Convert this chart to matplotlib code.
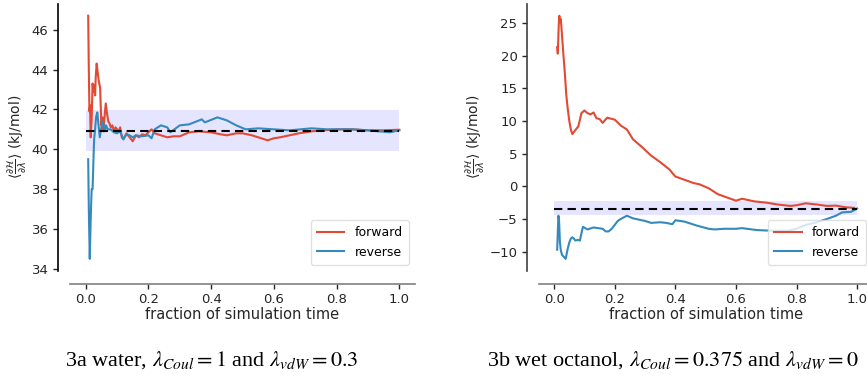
import numpy as np
import matplotlib
matplotlib.use("Agg")
import matplotlib.pyplot as plt

# 3a water: fraction of simulation time vs <dH/dlambda>
wat_fwd_t = [0.008, 0.010, 0.012, 0.014, 0.016, 0.019, 0.022, 0.025, 0.027, 0.030, 0.032, 0.035,
             0.038, 0.042, 0.046, 0.050, 0.053, 0.056, 0.060, 0.064, 0.068, 0.072, 0.076, 0.080,
             0.085, 0.090, 0.095, 0.100, 0.105, 0.110, 0.115, 0.120, 0.130, 0.140, 0.150, 0.160,
             0.170, 0.180, 0.190, 0.200, 0.210, 0.220, 0.240, 0.260, 0.280, 0.300, 0.330, 0.360,
             0.400, 0.430, 0.450, 0.480, 0.500, 0.530, 0.550, 0.580, 0.600, 0.620, 0.650, 0.680,
             0.720, 0.760, 0.800, 0.850, 0.900, 0.950, 1.000]
wat_fwd = [46.7, 44.0, 41.9, 42.2, 40.6, 41.5, 43.3, 42.9, 43.2, 42.7, 43.6, 44.3,
           43.9, 43.4, 43.1, 41.2, 41.6, 40.9, 41.6, 42.3, 41.8, 41.4, 41.3, 41.1,
           41.2, 40.9, 41.1, 41.0, 40.9, 41.1, 40.6, 40.5, 40.8, 40.6, 40.4, 40.7,
           40.6, 40.75, 40.7, 40.85, 41.0, 40.8, 40.7, 40.6, 40.65, 40.65, 40.85, 40.9,
           40.85, 40.75, 40.7, 40.8, 40.8, 40.7, 40.6, 40.45, 40.55, 40.6, 40.7, 40.8,
           40.9, 40.95, 41.0, 41.0, 40.95, 40.95, 40.98]

wat_rev_t = [0.008, 0.010, 0.013, 0.016, 0.019, 0.022, 0.025, 0.027, 0.030, 0.033, 0.037, 0.041,
             0.045, 0.050, 0.055, 0.060, 0.065, 0.070, 0.080, 0.090, 0.100, 0.110, 0.120, 0.130,
             0.140, 0.150, 0.160, 0.180, 0.200, 0.210, 0.220, 0.240, 0.260, 0.270, 0.300, 0.330,
             0.370, 0.380, 0.420, 0.450, 0.480, 0.510, 0.550, 0.600, 0.650, 0.720, 0.770, 0.850,
             0.900, 0.970, 1.000]
wat_rev = [39.5, 37.0, 34.5, 36.5, 38.0, 38.0, 39.6, 40.5, 41.0, 41.6, 41.85, 41.2,
           40.6, 41.1, 41.4, 40.9, 41.2, 41.0, 41.0, 40.85, 40.8, 40.9, 40.5, 40.75,
           40.7, 40.6, 40.7, 40.65, 40.7, 40.55, 41.0, 41.2, 41.1, 40.85, 41.2, 41.25,
           41.5, 41.35, 41.6, 41.45, 41.2, 41.0, 41.05, 41.0, 40.95, 41.05, 41.0, 41.0,
           40.95, 40.85, 40.95]
wat_mean = 40.93
wat_band = (39.9, 41.95)

# 3b wet octanol
oct_fwd_t = [0.010, 0.012, 0.015, 0.017, 0.020, 0.022, 0.026, 0.030, 0.035, 0.040, 0.045, 0.050,
             0.055, 0.060, 0.065, 0.070, 0.080, 0.090, 0.100, 0.110, 0.120, 0.130, 0.140, 0.150,
             0.160, 0.175, 0.200, 0.220, 0.240, 0.260, 0.290, 0.320, 0.350, 0.380, 0.400, 0.430,
             0.460, 0.480, 0.510, 0.540, 0.570, 0.600, 0.620, 0.660, 0.700, 0.740, 0.780, 0.800,
             0.830, 0.870, 0.900, 0.930, 0.960, 0.990]
oct_fwd = [21.3, 20.3, 24.5, 26.1, 25.2, 25.6, 23.0, 20.5, 17.5, 14.0, 11.8, 10.0,
           8.7, 8.0, 8.3, 8.6, 9.2, 11.2, 11.6, 11.2, 11.0, 11.3, 10.4, 10.3,
           9.7, 10.5, 10.2, 9.3, 8.7, 7.2, 6.0, 4.7, 3.7, 2.6, 1.5, 1.0,
           0.5, 0.3, -0.3, -1.2, -1.7, -2.2, -1.9, -2.3, -2.5, -2.8, -3.0, -2.9,
           -2.6, -2.8, -3.0, -2.95, -3.2, -3.3]

oct_rev_t = [0.010, 0.014, 0.016, 0.019, 0.022, 0.026, 0.030, 0.038, 0.045, 0.050, 0.055, 0.060,
             0.065, 0.070, 0.078, 0.085, 0.090, 0.095, 0.110, 0.130, 0.160, 0.170, 0.180, 0.190,
             0.210, 0.220, 0.240, 0.260, 0.300, 0.320, 0.350, 0.370, 0.390, 0.400, 0.430, 0.470,
             0.510, 0.530, 0.560, 0.600, 0.620, 0.670, 0.720, 0.770, 0.800, 0.830, 0.860, 0.900,
             0.930, 0.950, 0.980, 1.000]
oct_rev = [-9.7, -4.5, -5.0, -8.5, -9.8, -10.5, -10.7, -11.1, -9.5, -8.6, -8.0, -7.8,
           -8.0, -8.3, -8.2, -8.3, -7.2, -6.2, -6.6, -6.3, -6.5, -6.9, -6.9, -6.5,
           -5.3, -5.0, -4.5, -4.9, -5.3, -5.6, -5.5, -5.6, -5.8, -5.2, -5.4, -6.0,
           -6.5, -6.6, -6.5, -6.5, -6.4, -6.7, -6.8, -6.8, -6.5, -5.9, -5.6, -5.0,
           -4.5, -4.0, -3.9, -3.4]
oct_mean = -3.4
oct_band = (-4.4, -2.3)

captions = [r"3a water, $\lambda_{Coul} = 1$ and $\lambda_{vdW} = 0.3$",
            r"3b wet octanol, $\lambda_{Coul} = 0.375$ and $\lambda_{vdW} = 0$"]

red = "#E24A33"
blue = "#348ABD"
ylab = r"$\langle\frac{\partial \mathcal{H}}{\partial \lambda}\rangle$ (kJ/mol)"

fig = plt.figure(figsize=(8.67, 3.85), dpi=100)
ax1 = fig.add_axes([70/867, 114/385, 345/867, 267.4/385])
ax2 = fig.add_axes([539/867, 114/385, 333.3/867, 267.4/385])

panels = [
    (ax1, wat_fwd_t, wat_fwd, wat_rev_t, wat_rev, wat_mean, wat_band, np.arange(34, 47, 2)),
    (ax2, oct_fwd_t, oct_fwd, oct_rev_t, oct_rev, oct_mean, oct_band, np.arange(-10, 26, 5)),
]

for ax, ft, fv, rt, rv, m, band, yt in panels:
    ax.plot(ft, fv, color=red, lw=1.5, label="forward")
    ax.plot(rt, rv, color=blue, lw=1.5, label="reverse")
    lo, hi = ax.get_ylim()
    ax.fill_between([0, 1], band[0], band[1], color="blue", alpha=0.1, lw=0)
    ax.plot([0, 1], [m, m], color="black", lw=1.5, ls=(0, (4, 2.5)))
    ax.set_ylim(lo, hi)
    ax.set_xlim(-0.05, 1.05)
    ax.set_xticks(np.arange(0, 1.01, 0.2))
    ax.set_yticks(yt)
    for s in ["top", "right"]:
        ax.spines[s].set_visible(False)
    ax.spines["left"].set_position(("outward", 9))
    ax.spines["bottom"].set_position(("outward", 9))
    ax.spines["left"].set_color("0.25")
    ax.spines["bottom"].set_color("0.5")
    ax.spines["left"].set_linewidth(1.2)
    ax.spines["bottom"].set_linewidth(1.2)
    ax.tick_params(labelsize=9.5, colors="0.15", length=3.5, width=1, pad=3)
    ax.set_xlabel("fraction of simulation time", fontsize=10.5, color="0.15", labelpad=1)
    ax.set_ylabel(ylab, fontsize=10, color="0.15", labelpad=2)
    leg = ax.legend(loc="lower right", fontsize=9, frameon=True, fancybox=True,
                    handlelength=2.2, borderpad=0.5)
    leg.get_frame().set_edgecolor("0.85")

ax1.spines["left"].set_color("black")

for x, c in zip([212/867, 673/867], captions):
    fig.text(x, 25/385, c, ha="center", va="center", fontsize=16,
             family="Liberation Serif", math_fontfamily="stix")

fig.savefig("out.png", dpi=100)
